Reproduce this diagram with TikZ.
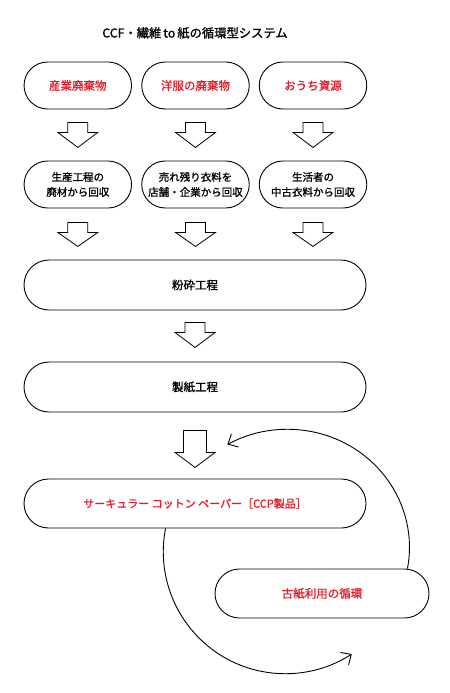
\documentclass[tikz,border=0pt]{standalone}
\usepackage{fontspec}
\setmainfont{Noto Sans CJK JP}[FakeBold=1.2]
\usetikzlibrary{arrows.meta,calc}
\definecolor{ccfred}{RGB}{225,30,40}
\newcommand\blockarr[5]{\draw[blk] (#1) ++(-#5,#2) -- ++({2*#5},0) -- ++(0,#3) -- ++({20-#5},0) -- ++(-20,#4) -- ++(-20,-#4) -- ++({20-#5},0) -- cycle;}
\begin{document}
\begin{tikzpicture}[x=1bp,y=-1bp,
  pill/.style={draw=black, line width=0.9bp, rounded corners=23.5bp, minimum height=47bp, inner sep=0pt, align=center, font=\fontsize{11.5bp}{15bp}\selectfont},
  smallbox/.style={pill, minimum width=107.5bp},
  widebox/.style={pill, minimum width=342bp, minimum height=50bp, rounded corners=25bp},
  redtext/.style={text=ccfred},
  twoline/.style={font=\fontsize{10.5bp}{15bp}\selectfont},
  blk/.style={draw=black, line width=0.8bp, line join=miter},
  loop/.style={draw=black, line width=0.9bp, -{Straight Barb[length=8bp,width=15bp]}}
]
\useasboundingbox (0,0) rectangle (450,693);
\node[font=\fontsize{12.3bp}{14bp}\selectfont] (t) at (195,33) {CCF・繊維\,to\,紙の循環型システム};

\node[smallbox, redtext] (a1) at (77.8,85.5) {産業廃棄物};
\node[smallbox, redtext] (a2) at (195.5,85.5) {洋服の廃棄物};
\node[smallbox, redtext] (a3) at (313,85.5) {おうち資源};

\node[smallbox, twoline] (b1) at (77.8,184.5) {生産工程の\\廃材から回収};
\node[smallbox, twoline] (b2) at (195.5,184.5) {売れ残り衣料を\\店舗・企業から回収};
\node[smallbox, twoline] (b3) at (313,184.5) {生活者の\\中古衣料から回収};

\node[widebox] (c) at (195,285) {粉砕工程};
\node[widebox] (d) at (195,387) {製紙工程};
\node[widebox, minimum height=49bp, rounded corners=24.5bp, redtext, font=\fontsize{11bp}{14bp}\selectfont] (e) at (195,503.5) {サーキュラー コットン ペーパー［CCP製品］};
\node[pill, minimum width=214bp, minimum height=49bp, rounded corners=24.5bp, redtext] (f) at (322,593.5) {古紙利用の循環};

\blockarr{a1.south}{13}{10}{15}{10}
\blockarr{a2.south}{13}{10}{15}{10}
\blockarr{a3.south}{13}{10}{15}{10}
\blockarr{b1.south}{14}{10}{14}{10}
\blockarr{b2.south}{14}{10}{14}{10}
\blockarr{b3.south}{14}{10}{14}{10}
\blockarr{c.south}{12}{10}{15}{10}
\blockarr{d.south}{18}{22}{15}{11.5}

\draw[loop] ($(f.north east)+(-22,0)$) arc[start angle=10.4, end angle=-119.5, x radius=122, y radius=118];
\draw[loop] ($(e.south west)+(142,0)$) arc[start angle=191, end angle=57, radius=122];
\end{tikzpicture}
\end{document}
